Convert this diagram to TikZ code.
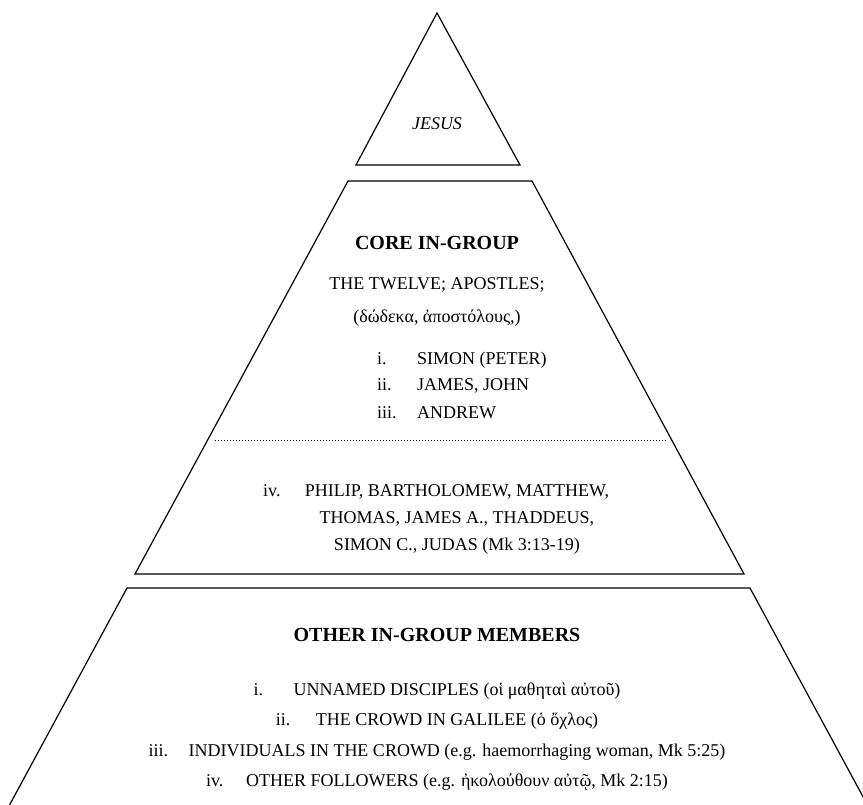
\documentclass[tikz,border=0pt]{standalone}
\usepackage{fontspec}
\setmainfont{Liberation Serif}
\usetikzlibrary{positioning}

\tikzset{
  tier/.style={draw, line width=1.2pt, line join=miter},
  sep/.style={draw, line width=1pt, dash pattern=on 1pt off 2pt},
  body/.style={font=\fontsize{18}{27}\selectfont, inner sep=0pt},
  head/.style={font=\fontsize{20}{24}\selectfont\bfseries, inner sep=0pt},
}
\newcommand{\numtab}[1]{\makebox[40pt][l]{#1}}

\begin{document}
\begin{tikzpicture}[x=1pt,y=-1pt]
  \useasboundingbox (0,0) rectangle (863,805);
  \clip (0,0) rectangle (863,805);
  % apex
  \draw[tier] (437,13) -- (520,165) -- (356,165) -- cycle;
  \node[body, anchor=base] (jesus) at (437,130) {\itshape JESUS};
  % core in-group
  \draw[tier] (348,181) -- (532,181) -- (744,574) -- (135,574) -- cycle;
  \node[head, anchor=base] (corehead) at (437,250) {CORE IN-GROUP};
  \node[body, anchor=base] (twelve) at (437,290) {THE TWELVE; APOSTLES;};
  \node[body, anchor=base] (twelvegr) at (437,323) {(δώδεκα, ἀποστόλους,)};
  \foreach \n/\y/\txt in {1/364/{\numtab{i.}SIMON (PETER)},
                          2/391/{\numtab{ii.}JAMES, JOHN},
                          3/418/{\numtab{iii.}ANDREW}} {
    \node[body, anchor=base west] (core\n) at (377,\y) {\txt};
  }
  \draw[sep] (215,440) -- (667,440);
  \node[body, anchor=base west] (ivnum) at (263,496) {iv.};
  \node[body, anchor=base, align=center] (rest) at (457,550)
    {PHILIP, BARTHOLOMEW, MATTHEW,\\ THOMAS, JAMES A., THADDEUS,\\ SIMON C., JUDAS (Mk 3:13-19)};
  % other in-group members
  \draw[tier] (-4,830) -- (127,588) -- (750,588) -- (881,830);
  \node[head, anchor=base] (otherhead) at (437,641) {OTHER IN-GROUP MEMBERS};
  \foreach \n/\y/\txt in {1/695/{\numtab{i.}UNNAMED DISCIPLES (οἱ μαθηταὶ αὐτοῦ)},
                          2/725/{\numtab{ii.}THE CROWD IN GALILEE (ὁ ὄχλος)},
                          3/756/{\numtab{iii.}INDIVIDUALS IN THE CROWD (e.g. haemorrhaging woman, Mk 5:25)},
                          4/786/{\numtab{iv.}OTHER FOLLOWERS (e.g. ἠκολούθουν αὐτῷ, Mk 2:15)}} {
    \node[body, anchor=base] (other\n) at (437,\y) {\txt};
  }
\end{tikzpicture}
\end{document}
